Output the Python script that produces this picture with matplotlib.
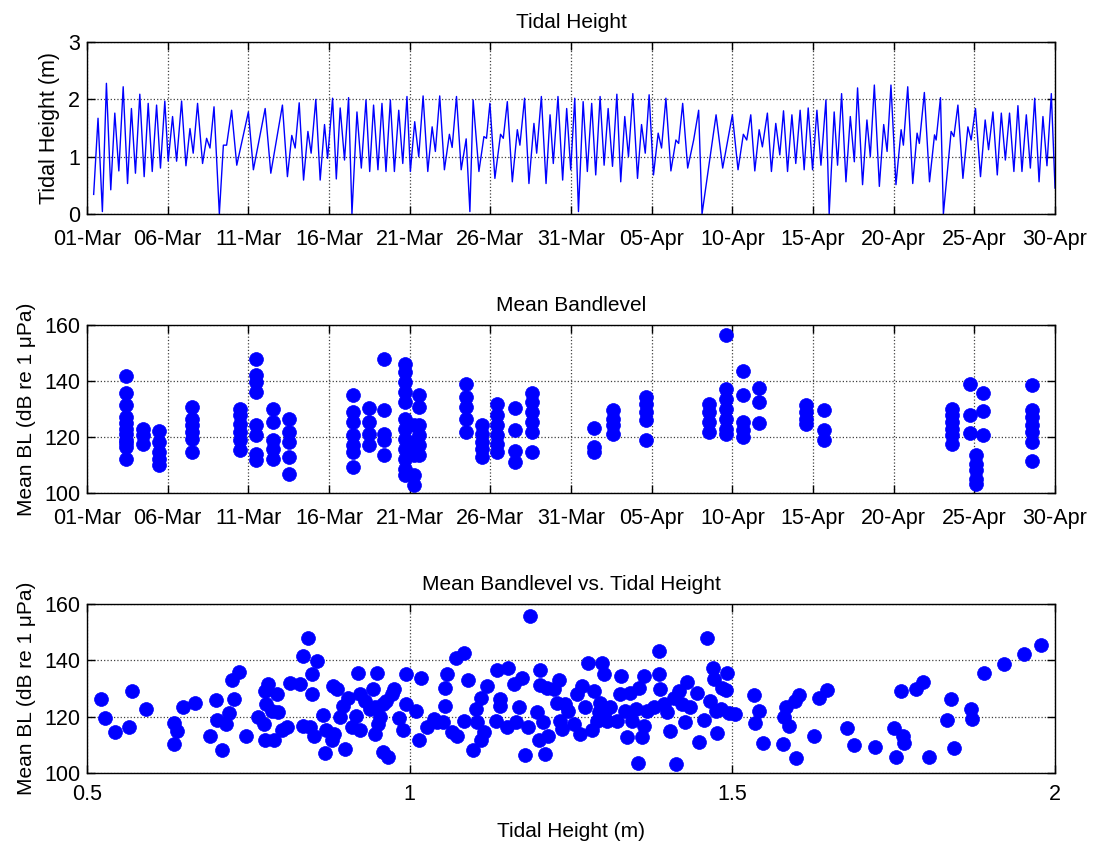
import numpy as np
import matplotlib.pyplot as plt

plt.rcParams['font.family'] = ['Liberation Sans', 'DejaVu Sans']

# tidal height, read as turning points (days since 01-Mar, metres)
tide_day = [0.41, 0.68, 0.95, 1.20, 1.47, 1.72, 1.97, 2.24, 2.51, 2.75, 3.00, 3.27, 3.54, 3.79,
            4.04, 4.31, 4.55, 4.82, 5.03, 5.30, 5.55, 5.86, 6.13, 6.38, 6.58, 6.85, 7.16, 7.41,
            7.62, 7.87, 8.20, 8.45, 8.65, 8.96, 9.28, 10.00, 10.31, 11.04, 11.39, 12.11, 12.42,
            12.69, 12.90, 13.15, 13.42, 13.69, 13.89, 14.18, 14.45, 14.72, 14.91, 15.22, 15.45,
            15.69, 15.96, 16.21, 16.42, 16.73, 17.00, 17.29, 17.52, 17.76, 18.03, 18.28, 18.53,
            18.80, 19.05, 19.32, 19.57, 19.83,
            20.04, 20.31, 20.56, 20.83, 21.12, 21.39, 21.59, 21.86, 22.15, 22.46, 22.63, 22.90,
            23.19, 23.50, 23.73, 23.93, 24.29, 24.60, 24.76, 24.97, 25.28, 25.63, 25.80, 26.05,
            26.36, 26.67, 26.83, 27.12, 27.39, 27.70, 27.87, 28.16, 28.45, 28.70, 28.90, 29.19,
            29.48, 29.73, 29.98, 30.23, 30.46, 30.75, 31.01, 31.28, 31.53, 31.80, 32.05, 32.30,
            32.57, 32.84, 33.08, 33.33, 33.56, 33.83, 34.12, 34.37, 34.60, 34.84, 35.11, 35.40,
            35.61, 35.88, 36.19, 36.50, 36.67, 36.92, 37.23, 37.60, 37.91, 38.12, 38.99, 39.40,
            40.00, 40.35, 40.68, 40.89, 41.14, 41.39, 41.66, 41.86, 42.17, 42.42, 42.69, 42.94,
            43.17, 43.42, 43.69, 43.93, 44.20, 44.45, 44.70, 44.97, 45.24, 45.49, 45.80, 46.00,
            46.31, 46.52, 46.77, 47.04, 47.31, 47.56, 47.76, 48.07, 48.34, 48.55, 48.80, 49.11,
            49.38, 49.59, 49.83, 50.14, 50.46, 50.60, 50.87, 51.18, 51.45, 51.59, 51.90, 52.22,
            52.53, 52.63, 52.90, 53.08, 53.56, 53.73, 53.98, 54.29, 54.60, 54.80, 55.07, 55.38,
            55.67, 55.88, 56.15, 56.42, 56.67, 56.92, 57.18, 57.45, 57.70, 57.95, 58.22, 58.47,
            58.74, 59.01, 59.25, 59.50, 59.77, 60.00]
tide_m = [0.34, 1.67, 0.04, 2.28, 0.42, 1.76, 0.75, 2.22, 0.53, 1.84, 0.71, 2.09, 0.65, 1.93,
          0.74, 1.90, 0.80, 1.97, 0.92, 1.70, 0.92, 1.97, 0.84, 1.49, 1.06, 1.93, 0.88, 1.32,
          1.15, 1.87, 0.00, 1.20, 1.20, 1.81, 0.85, 1.78, 0.77, 1.84, 0.71, 1.90, 0.65,
          1.37, 1.15, 1.94, 0.59, 1.44, 1.06, 2.00, 0.59, 1.56, 0.97, 2.02, 0.61,
          1.85, 0.94, 2.03, 0.00, 1.78, 0.80, 1.99, 0.74, 1.90, 0.77, 1.93, 0.74,
          1.99, 0.74, 1.81, 0.88, 2.05,
          0.74, 1.61, 1.00, 2.06, 0.74, 1.52, 1.09, 2.06, 0.77, 1.39, 1.16, 2.05,
          0.77, 1.31, 0.04, 1.99, 0.74, 1.35, 1.32, 1.93, 0.62, 1.39, 1.32, 1.96,
          0.56, 1.47, 1.20, 2.02, 0.53, 1.58, 1.06, 2.05, 0.53, 1.73, 0.88, 2.05,
          0.59, 1.84, 0.77, 2.02, 0.04, 1.96, 0.74, 1.93, 0.68, 2.05, 0.85, 1.84,
          0.83, 2.09, 0.56, 1.70, 1.00, 2.10, 0.62, 1.56, 1.06, 2.08, 0.68, 1.41,
          1.15, 2.02, 0.75, 1.29, 1.23, 1.93, 0.80, 1.29, 1.81, 0.00, 1.73, 0.80,
          1.73, 0.77, 1.39, 1.29, 1.73, 0.75, 1.47, 1.17, 1.76, 0.74, 1.58, 1.03,
          1.80, 0.74, 1.73, 0.88, 1.81, 0.77, 1.85, 0.77, 1.81, 0.85, 1.99, 0.00,
          1.78, 0.85, 2.10, 0.56, 1.70, 0.91, 2.20, 0.51, 1.64, 1.00, 2.25, 0.48,
          1.56, 1.09, 2.25, 0.51, 1.47, 1.20, 2.22, 0.53, 1.41, 1.23, 2.12, 0.56,
          1.38, 1.29, 2.03, 0.00, 1.44, 1.35, 1.90, 0.62, 1.52, 1.29, 1.84, 0.65,
          1.64, 1.12, 1.78, 0.68, 1.76, 0.94, 1.76, 0.74, 1.89, 0.74, 1.73, 0.80,
          2.02, 0.56, 1.70, 0.84, 2.10, 0.45]

date_ticks = list(range(0, 61, 5))
date_labels = ['01-Mar', '06-Mar', '11-Mar', '16-Mar', '21-Mar', '26-Mar', '31-Mar',
               '05-Apr', '10-Apr', '15-Apr', '20-Apr', '25-Apr', '30-Apr']

# mean bandlevel, grouped by recording day
bl_days = [2.44, 3.48, 4.47, 6.52, 9.48, 10.48, 11.5, 12.5, 16.5, 17.45, 18.4, 19.7, 20.25,
           20.56, 23.46, 24.49, 25.42, 26.52, 27.6, 31.43, 32.63, 34.64, 38.57, 39.6, 40.68,
           41.66, 44.55, 45.69, 53.6, 54.76, 55.1, 55.53, 58.57]
bl_values = [
    [141.7, 135.7, 131.3, 127, 125, 123, 121, 119, 118, 116.4, 112],
    [123, 120.6, 117.6],
    [122, 118.2, 114.6, 112.3, 109.9],
    [130.7, 126.5, 124.2, 121.8, 119.4, 114.6],
    [130.1, 127.7, 124.8, 121.8, 118.8, 115.2],
    [148, 142, 139.6, 136, 124.2, 120.6, 114, 111.7],
    [130.1, 125.4, 118.8, 115.8, 112.3],
    [126.3, 121.8, 118.2, 112.9, 106.9],
    [134.9, 128.9, 125.4, 120.6, 117, 114.6, 109.3],
    [130.4, 125.4, 121.2, 117],
    [148, 129.5, 121.2, 118.8, 113.5],
    [146.2, 143.2, 139.6, 136, 132.5, 126.5, 123, 119.4, 115.8, 112.3, 108.7, 106.3],
    [124.2, 118.2, 113.5, 106.3, 102.7],
    [134.9, 130.7, 124.2, 120.6, 117, 113.5],
    [139, 134.3, 130.7, 126.5, 121.8],
    [124.2, 121.2, 118.2, 115.8, 112.9],
    [131.9, 127.7, 124.2, 120.6, 117.6, 114.6],
    [130.4, 122.4, 114.9, 111.1],
    [135.8, 132.5, 128.9, 125.4, 121.8, 114.6],
    [123.2, 116.4, 114.6],
    [129.5, 126.5, 124.2, 121.2],
    [134.3, 131.9, 128.9, 126, 118.8],
    [131.9, 128.9, 125.4, 121.8],
    [156.3, 137.3, 133.7, 130.1, 126.5, 123, 121.2],
    [143.5, 134.9, 125.4, 122.4, 120],
    [137.5, 132.5, 125.1],
    [131.3, 128.9, 126.5, 124.8],
    [129.8, 122.4, 118.8],
    [130.1, 127.7, 125.4, 123, 120.6, 117.6],
    [139, 128, 121.5],
    [113.5, 110.5, 108.1, 105.1, 103.3],
    [135.7, 129.3, 120.8],
    [138.7, 129.5, 127.1, 124.2, 121.8, 118.2, 111.3],
]

# bandlevel against tidal height
th_m = [0.521, 0.528, 0.543, 0.565, 0.569, 0.592, 0.635, 0.639, 0.635, 0.648, 0.667, 0.691,
        0.700, 0.702, 0.709, 0.716, 0.720, 0.724, 0.728, 0.736, 0.746, 0.765, 0.774, 0.776,
        0.776, 0.778, 0.781, 0.786, 0.789, 0.795, 0.796, 0.802, 0.810, 0.815, 0.830, 0.835,
        0.842, 0.856, 0.849, 0.848, 0.834, 0.846, 0.851, 0.865, 0.868, 0.871, 0.879, 0.881,
        0.882, 0.887, 0.892, 0.897, 0.900, 0.905, 0.910, 0.917, 0.920, 0.923, 0.923, 0.931,
        0.939, 0.943, 0.946, 0.949, 0.951, 0.954, 0.946, 0.959, 0.967, 0.959, 0.964, 0.972,
        0.975, 0.984, 0.990, 0.994, 0.995,
        1.010, 1.015, 1.018, 1.027, 1.037, 1.042, 1.052, 1.055, 1.058, 1.055, 1.066, 1.073,
        1.072, 1.084, 1.084, 1.091, 1.098, 1.103, 1.105, 1.110, 1.111, 1.115, 1.119, 1.134,
        1.135, 1.140, 1.140, 1.150, 1.152, 1.161, 1.164, 1.169, 1.174, 1.179, 1.187, 1.184,
        1.197, 1.200, 1.202, 1.202, 1.207, 1.210, 1.213, 1.215, 1.223, 1.231, 1.228, 1.233,
        1.236, 1.241, 1.246, 1.254, 1.259, 1.264, 1.267, 1.272, 1.277, 1.283, 1.285, 1.290,
        1.293, 1.295, 1.301, 1.298, 1.303, 1.306, 1.311, 1.321, 1.326, 1.327, 1.333, 1.337,
        1.342, 1.345, 1.350, 1.353, 1.355, 1.360, 1.363, 1.363, 1.368, 1.378, 1.386, 1.387,
        1.388, 1.394, 1.399, 1.403, 1.409, 1.413, 1.417, 1.422, 1.427, 1.430, 1.435, 1.445,
        1.448, 1.456, 1.461, 1.466, 1.470, 1.471, 1.474, 1.476, 1.484, 1.492, 1.494,
        1.490, 1.482, 1.504, 1.534, 1.541, 1.535, 1.548, 1.579, 1.583, 1.580, 1.588, 1.597,
        1.604, 1.599, 1.626, 1.635, 1.646, 1.678, 1.689, 1.721, 1.751, 1.765, 1.766, 1.753,
        1.762, 1.785, 1.796, 1.804, 1.832, 1.839, 1.843, 1.870, 1.872, 1.890, 1.921, 1.952,
        1.979]
th_bl = [126.2, 119.5, 114.5, 116.3, 129.1, 122.9, 117.7, 114.9, 110.2, 123.3, 125.0, 113.0,
         125.8, 118.8, 108.1, 117.4, 121.2, 133.1, 126.2, 135.8, 113.3, 119.8, 117.4, 111.6,
         129.1, 124.4, 131.5, 122.1, 111.6, 128.2, 121.5, 115.1, 116.3, 132.0, 131.7, 141.4,
         147.8, 139.6, 135.0, 128.0, 116.8, 116.3, 113.0, 120.7, 107.1, 115.1, 111.6, 130.9,
         113.9, 129.7, 119.8, 123.9, 108.7, 126.8, 116.3, 120.4, 135.6, 128.0, 115.1, 125.6,
         122.7, 129.7, 123.3, 135.6, 117.4, 119.8, 113.9, 107.5, 105.7, 124.4, 125.6, 128.0,
         129.7, 119.5, 115.1, 135.0, 124.4,
         122.1, 111.8, 133.6, 116.3, 119.2, 118.0, 118.0, 130.1, 135.3, 123.9, 114.5, 113.3,
         140.8, 142.6, 118.6, 132.9, 108.1, 122.7, 118.0, 126.5, 111.8, 114.5, 130.9, 118.6,
         136.4, 126.2, 123.9, 116.3, 137.1, 131.5, 118.0, 123.3, 133.6, 106.3, 155.8, 116.3,
         121.5, 111.6, 136.4, 131.2, 118.0, 106.9, 130.3, 113.3, 129.7, 132.9, 125.0, 118.6,
         115.7, 124.4, 122.1, 117.4, 128.0, 113.9, 130.9, 123.3, 139.1, 115.1, 129.1, 118.6,
         121.5, 125.0, 135.0, 139.1, 122.1, 118.6, 123.3, 118.6, 128.0, 134.4, 122.1, 112.7,
         128.5, 118.6, 122.7, 103.4, 130.3, 112.7, 116.8, 134.4, 122.1, 123.3, 135.0, 143.4,
         129.7, 124.4, 121.5, 114.9, 126.8, 103.2, 129.1, 124.4, 118.0, 132.4, 123.3, 128.5,
         111.0, 118.8, 147.8, 125.6, 137.3, 133.2, 122.1, 114.2, 130.3, 135.6, 121.2,
         129.4, 122.7, 120.9, 127.7, 121.9, 117.7, 110.8, 110.2, 123.3, 119.8, 116.6, 125.6,
         127.7, 105.4, 113.0, 126.8, 129.4, 115.9, 110.1, 109.2, 115.9, 113.0, 110.6, 105.7,
         129.1, 129.7, 132.4, 105.7, 118.8, 126.4, 109.0, 122.7, 119.2, 135.6, 138.8, 142.2,
         145.5]


def matlab_style(ax, xpad=8):
    ax.grid(True, linestyle=':', color='0.25', linewidth=0.9)
    ax.tick_params(direction='in', top=True, right=True, length=6, width=1,
                   labelsize=15.5)
    ax.tick_params(axis='x', pad=xpad)
    ax.tick_params(axis='y', pad=5)
    for s in ax.spines.values():
        s.set_linewidth(1.0)


fig = plt.figure(figsize=(10.95, 8.42), dpi=100)

ax1 = fig.add_axes([0.0795, 0.746, 0.884, 0.204])
ax1.plot(tide_day, tide_m, color='blue', linewidth=1.0)
ax1.set_xlim(0, 60)
ax1.set_ylim(0, 3)
ax1.set_yticks([0, 1, 2, 3])
ax1.set_xticks(date_ticks)
ax1.set_xticklabels(date_labels)
ax1.set_title('Tidal Height', fontsize=15, pad=10)
ax1.set_ylabel('Tidal Height (m)', fontsize=15.5, labelpad=6)
matlab_style(ax1, xpad=11)

ax2 = fig.add_axes([0.0795, 0.4145, 0.884, 0.1995])
mid_x = np.concatenate([[d] * len(v) for d, v in zip(bl_days, bl_values)])
mid_y = np.concatenate(bl_values)
ax2.plot(mid_x, mid_y, 'o', color='blue', markersize=10, markeredgewidth=0.5)
ax2.set_xlim(0, 60)
ax2.set_ylim(100, 160)
ax2.set_yticks([100, 120, 140, 160])
ax2.set_xticks(date_ticks)
ax2.set_xticklabels(date_labels)
ax2.set_title('Mean Bandlevel', fontsize=15, pad=10)
ax2.set_ylabel('Mean BL (dB re 1 \u03bcPa)', fontsize=15, labelpad=6)
matlab_style(ax2, xpad=11)

ax3 = fig.add_axes([0.0795, 0.0819, 0.884, 0.2008])
ax3.plot(th_m, th_bl, 'o', color='blue', markersize=10, markeredgewidth=0.5)
ax3.set_xlim(0.5, 2)
ax3.set_ylim(100, 160)
ax3.set_yticks([100, 120, 140, 160])
ax3.set_xticks([0.5, 1, 1.5, 2])
ax3.set_xticklabels(['0.5', '1', '1.5', '2'])
ax3.set_title('Mean Bandlevel vs. Tidal Height', fontsize=15, pad=10)
ax3.set_ylabel('Mean BL (dB re 1 \u03bcPa)', fontsize=15, labelpad=6)
ax3.set_xlabel('Tidal Height (m)', fontsize=15, labelpad=12)
matlab_style(ax3, xpad=8)

fig.savefig('out.png', dpi=100)
